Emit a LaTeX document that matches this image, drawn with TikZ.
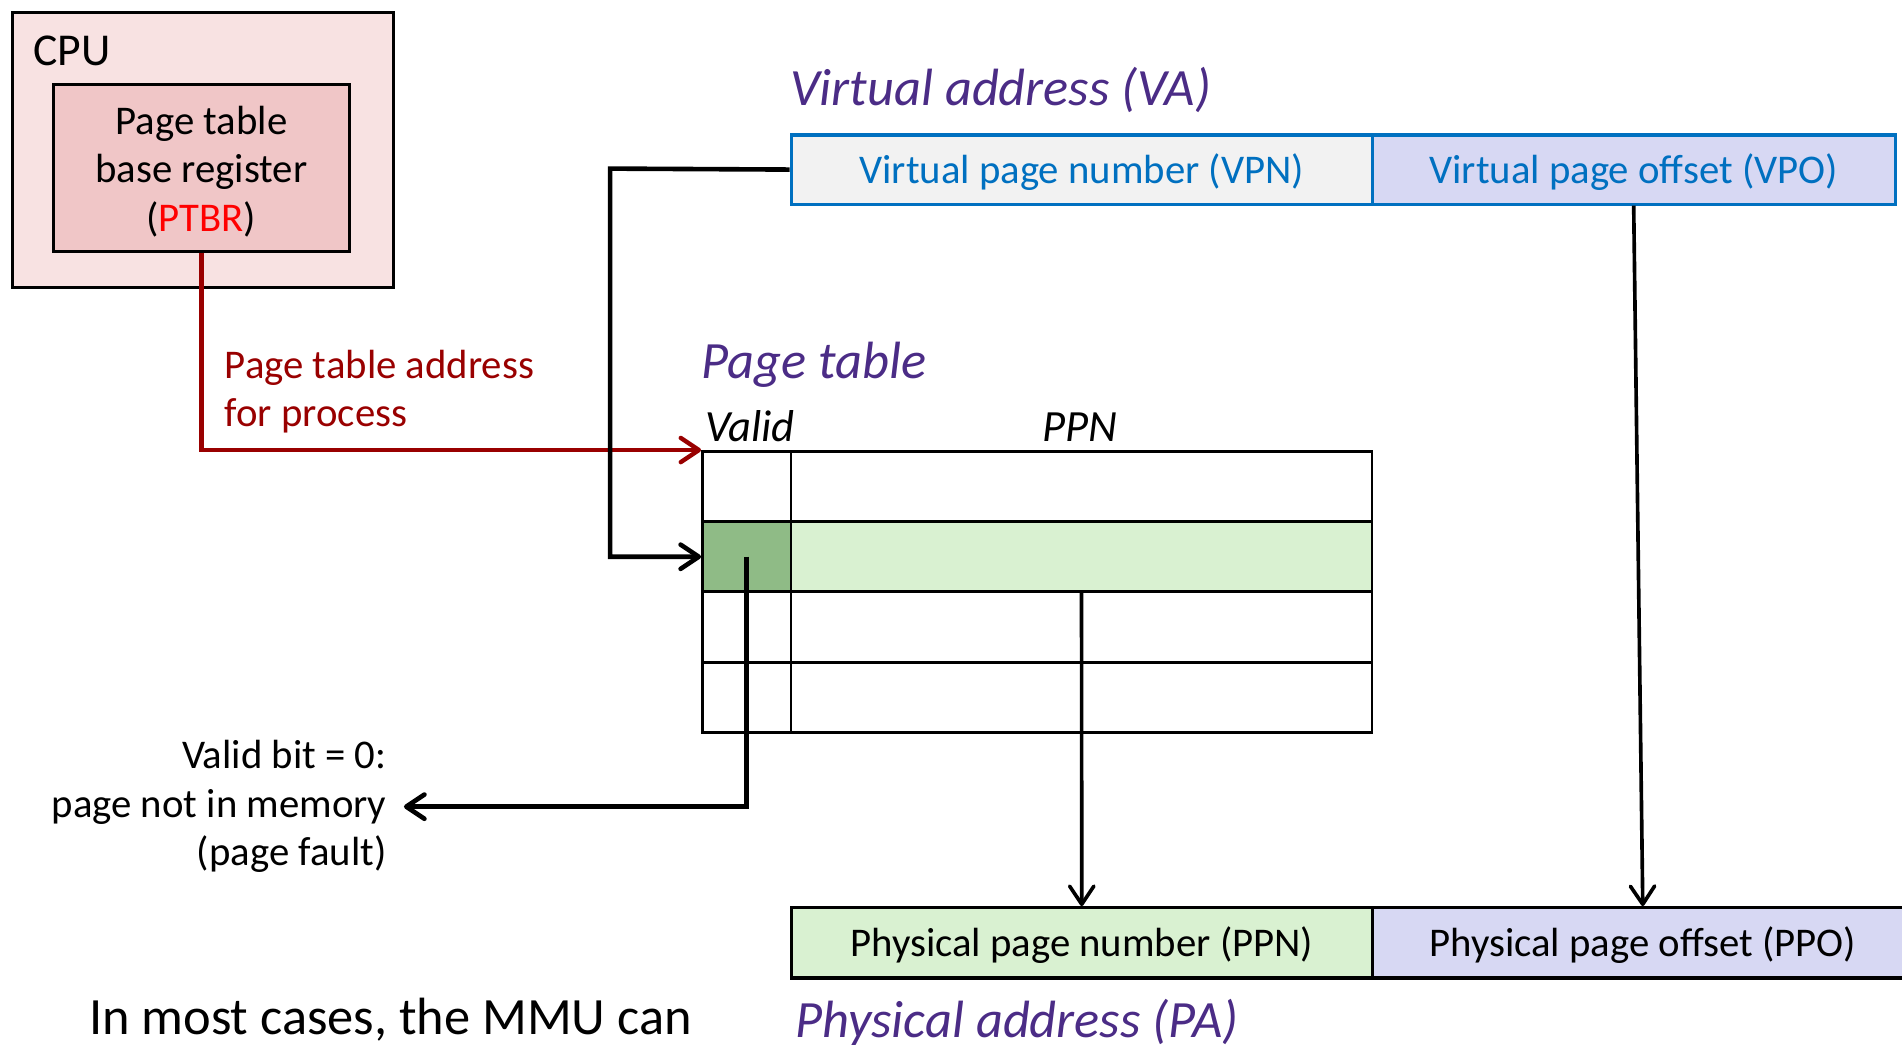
\documentclass[tikz,border=0pt]{standalone}
\usepackage{fontspec}
\setmainfont{Carlito}
\usetikzlibrary{arrows.meta}
\definecolor{cpuout}{HTML}{F8E2E2}
\definecolor{cpuin}{HTML}{F0C6C7}
\definecolor{vpngray}{HTML}{F2F2F2}
\definecolor{lav}{HTML}{D7D8F3}
\definecolor{lgreen}{HTML}{D9F1D1}
\definecolor{dgreen}{HTML}{8FBB86}
\definecolor{vblue}{HTML}{0070C0}
\definecolor{titlepurple}{HTML}{4B2C86}
\definecolor{darkred}{HTML}{990000}
\definecolor{brightred}{HTML}{FF0000}
\tikzset{
  bodyfont/.style={font=\fontsize{16.8pt}{20pt}\selectfont},
  titlefont/.style={font=\fontsize{21.6pt}{26pt}\selectfont\itshape, text=titlepurple},
  colfont/.style={font=\fontsize{18.4pt}{22pt}\selectfont\itshape},
  cell/.style={draw=black, line width=1.1pt, anchor=north west, inner sep=0pt, minimum height=28.875pt},
  vabox/.style={draw=vblue, line width=1.3pt, anchor=north west, inner sep=0pt, minimum height=28.5pt,
                text=vblue, bodyfont, text height=14.5pt, text depth=3pt},
  pabox/.style={draw=black, line width=1.3pt, anchor=north west, inner sep=0pt, minimum height=29pt,
                bodyfont, text height=14.5pt, text depth=3pt},
  barb/.style={-{Straight Barb[length=7.5pt, width=10pt, line cap=round, line join=round]}},
  conn/.style={draw=black, line width=1.9pt, barb},
  thinconn/.style={draw=black, line width=1.5pt, barb},
}
\begin{document}
\begin{tikzpicture}[x=0.5pt, y=-0.5pt]
\useasboundingbox (0,0) rectangle (1568,860.7);
\clip (0,0) rectangle (1568,860.7);

% CPU
\node[draw=black, line width=1.3pt, fill=cpuout, anchor=north west, inner sep=0pt,
      minimum width=157pt, minimum height=113.5pt] (cpu) at (9,9) {};
\node[anchor=base west, inner sep=0pt, font=\fontsize{18.8pt}{22pt}\selectfont] (cpulabel) at (27,54) {CPU};
\node[draw=black, line width=1.3pt, fill=cpuin, inner sep=0pt,
      minimum width=122pt, minimum height=68.5pt] (ptbr) at (166,138.5) {};
\node[inner sep=0pt, align=center, bodyfont] (ptbrtext) at (166,141.5)
      {Page table\\base register\\(\textcolor{brightred}{PTBR})};

% Virtual address
\node[titlefont, anchor=base west, inner sep=0pt] (vatitle) at (651,87) {Virtual address (VA)};
\node[vabox, fill=vpngray, minimum width=239.5pt] (vpn) at (651,110) {Virtual page number (VPN)};
\node[vabox, fill=lav, minimum width=215.5pt] (vpo) at (1130,110) {Virtual page offset (VPO)};

% Page table
\node[titlefont, anchor=base west, inner sep=0pt] (pttitle) at (578,312) {Page table};
\node[colfont, anchor=base west, inner sep=0pt] (validlabel) at (581,364) {Valid};
\node[colfont, anchor=base, inner sep=0pt] (ppnlabel) at (890.5,364) {PPN};

\node[cell, minimum width=36.5pt] (v1) at (578,371) {};
\node[cell, minimum width=239.5pt] (p1) at (651,371) {};
\node[cell, fill=dgreen, minimum width=36.5pt] (v2) at (578,429) {};
\node[cell, fill=lgreen, minimum width=239.5pt] (p2) at (651,429) {};
\node[cell, minimum width=36.5pt] (v3) at (578,487) {};
\node[cell, minimum width=239.5pt] (p3) at (651,487) {};
\node[cell, minimum width=36.5pt] (v4) at (578,545) {};
\node[cell, minimum width=239.5pt] (p4) at (651,545) {};

% Physical address
\node[pabox, fill=lgreen, minimum width=239.5pt] (ppn) at (651,747) {Physical page number (PPN)};
\node[pabox, fill=lav, minimum width=223pt] (ppo) at (1130,747) {Physical page offset (PPO)};
\node[titlefont, anchor=base west, inner sep=0pt] (patitle) at (655,855) {Physical address (PA)};

\node[anchor=base west, inner sep=0pt, font=\fontsize{21.6pt}{26pt}\selectfont] (mmu) at (73,853) {In most cases, the MMU can};

% PTBR connector
\node[anchor=west, inner sep=0pt, align=left, bodyfont, text=darkred] (ptaddr) at (185,323)
      {Page table address\\for process};
\draw[line width=1.8pt, draw=darkred, barb] (ptbr.south) |- (v1.north west);

% VPN connector
\coordinate (vpnbend) at (503,139);
\draw[conn] (vpn.west) -- (vpnbend) |- (v2.west);

% Valid bit connector
\node[anchor=east, inner xsep=7pt, inner ysep=0pt, align=right, bodyfont] (fault) at (333,665)
      {Valid bit = 0:\\page not in memory\\(page fault)};
\draw[conn] (v2.center) |- (fault.east);

% PPN and offset connectors
\draw[thinconn] (p2.south) -- (ppn.north);
\draw[thinconn] (vpo.south) -- (ppo.north);
\end{tikzpicture}
\end{document}
